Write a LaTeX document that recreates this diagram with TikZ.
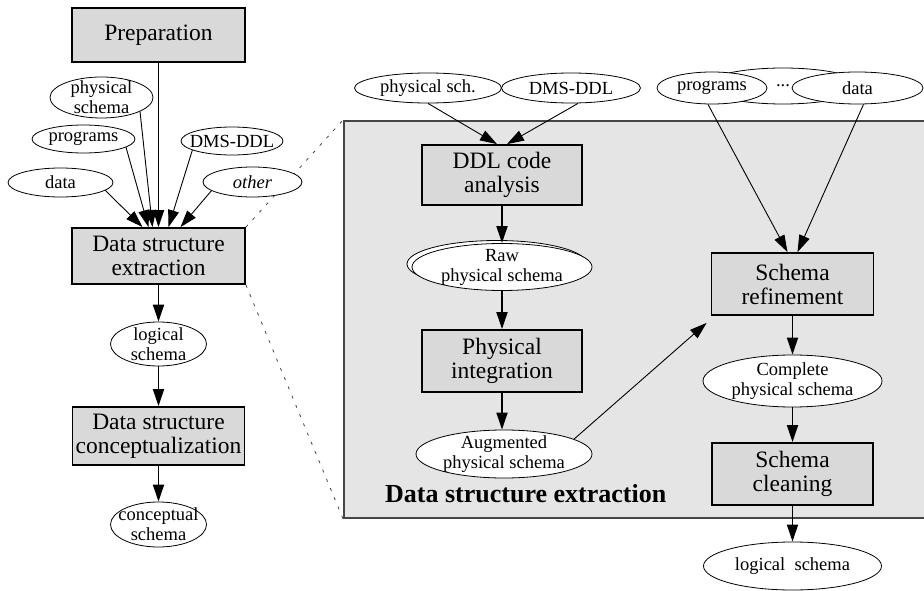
\documentclass[tikz,border=0pt]{standalone}
\usepackage{fontspec}
\setmainfont{Liberation Serif}
\usetikzlibrary{arrows.meta,shapes.geometric,backgrounds}
\definecolor{boxgray}{gray}{0.85}
\definecolor{zoomgray}{gray}{0.9}
\definecolor{rimgray}{gray}{0.27}

\begin{document}
\begin{tikzpicture}[x=1pt,y=-1pt,
  proc/.style 2 args={draw, line width=1.8pt, fill=boxgray, inner sep=0pt,
    minimum width=#1pt, minimum height=#2pt, align=center,
    font=\fontsize{23.5}{24}\selectfont},
  oval/.style 2 args={ellipse, draw, line width=0.8pt, fill=white, inner sep=0pt,
    minimum width=#1pt, minimum height=#2pt},
  otext/.style={inner sep=0pt, align=center, font=\fontsize{18.5}{20}\selectfont},
  zoombox/.style={draw=rimgray, line width=1.8pt, fill=zoomgray, inner sep=0pt,
    anchor=north west},
  main/.style={line width=1.8pt, -{Triangle[length=17pt,width=11pt]}},
  feed/.style={line width=0.9pt, -{Triangle[length=17pt,width=11pt]}},
  zoomline/.style={rimgray, line width=0.8pt, dash pattern=on 3pt off 7pt}]
\useasboundingbox (0,0) rectangle (924,591);
\clip (0,0) rectangle (924,591);

%overview
\node[proc={173}{54}] (prep) at (158.5,35) {Preparation};
\node[proc={173}{56}] (dse) at (158.5,256) {Data structure\\extraction};
\node[oval={96}{44}, label={[otext]center:logical\\schema}] (lsL) at (158.5,344) {};
\node[proc={172}{58}] (dsc) at (158.5,436) {Data structure\\conceptualization};
\node[oval={96}{45}, label={[otext]center:conceptual\\schema}] (cs) at (158.5,524.5) {};
\node[oval={103}{41}, label={[otext]center:physical\\schema}] (psL) at (101.5,97.5) {};
\node[oval={103}{28}, label={[otext]center:programs}] (progL) at (83.5,139) {};
\node[oval={102}{28}, label={[otext]center:DMS-DDL}] (dmsL) at (232,141) {};
\node[oval={105}{29}, label={[otext]center:data}] (dataL) at (60.5,182.5) {};
\node[oval={99}{30}, label={[otext]center:\textit{other}}] (othL) at (252.5,182) {};

%zoom on the extraction
\node[zoombox, minimum width=590pt, minimum height=397pt] (zoom) at (343,120) {};
\node[oval={147}{30}, label={[otext]center:physical sch.}] (psR) at (428,88) {};
\node[oval={139}{30}, label={[otext]center:DMS-DDL}] (dmsR) at (571,88) {};
\node[oval={156}{36}, label={[otext]center:...}] (more) at (783,86) {};
\node[oval={110}{32}, label={[otext]center:programs}] (progR) at (712,88) {};
\node[oval={131}{32}, label={[otext]center:data}] (dataR) at (857.5,88) {};
\node[proc={160}{60}] (ddl) at (502,175) {DDL code\\analysis};
\node[oval={180}{47}] (rawbk) at (497,264) {};
\node[oval={180}{47}, label={[otext]center:Raw\\physical schema}] (raw) at (502,267) {};
\node[proc={160}{62}] (pint) at (502,361) {Physical\\integration};
\node[oval={176}{48}, label={[otext]center:Augmented\\physical schema}] (aug) at (504,454) {};
\node[anchor=base west, inner sep=0pt, font=\bfseries\fontsize{26}{28}\selectfont] (title) at (385,502) {Data structure extraction};
\node[proc={162}{62}] (sref) at (792.5,284) {Schema\\refinement};
\node[oval={179}{52}, label={[otext]center:Complete\\physical schema}] (cps) at (792.5,381) {};
\node[proc={161}{62}] (scl) at (792.5,474) {Schema\\cleaning};
\node[oval={178}{48}, label={[otext]center:logical~~schema}] (lsR) at (792.5,566) {};

\begin{pgfonlayer}{background}
\draw[zoomline] (dse.north east) -- (zoom.north west);
\draw[zoomline] (dse.south east) -- (zoom.south west);
\end{pgfonlayer}

\draw[main] (prep) -- (dse);
\draw[feed] (psL.-20) -- ([xshift=-6pt]dse.north);
\draw[feed] (progL.-11) -- ([xshift=-10pt]dse.north);
\draw[feed] (dataL.-10) -- ([xshift=-16pt]dse.north);
\draw[feed] (dmsL.193) -- ([xshift=10pt]dse.north);
\draw[feed] (othL.192) -- ([xshift=22pt]dse.north);
\draw[main] (dse) -- (lsL);
\draw[main] (lsL) -- (dsc);
\draw[main] (dsc) -- (cs);

\draw[feed] (psR.south) -- ([xshift=-5pt]ddl.north);
\draw[feed] ([xshift=7pt]dmsR.south) -- ([xshift=5pt]ddl.north);
\draw[main] (ddl) -- (raw);
\draw[main] (raw) -- (pint);
\draw[main] (pint.south) -- (pint.south |- aug.north);
\draw[feed] (aug.12) -- ([shift={(-4pt,-7pt)}]sref.south west);
\draw[feed] ([xshift=-4pt]progR.south) -- ([xshift=-5pt]sref.north);
\draw[feed] ([xshift=6pt]dataR.south) -- ([xshift=5pt]sref.north);
\draw[main] (sref) -- (cps);
\draw[main] (cps) -- (scl);
\draw[main] (scl) -- (lsR);
\end{tikzpicture}
\end{document}
